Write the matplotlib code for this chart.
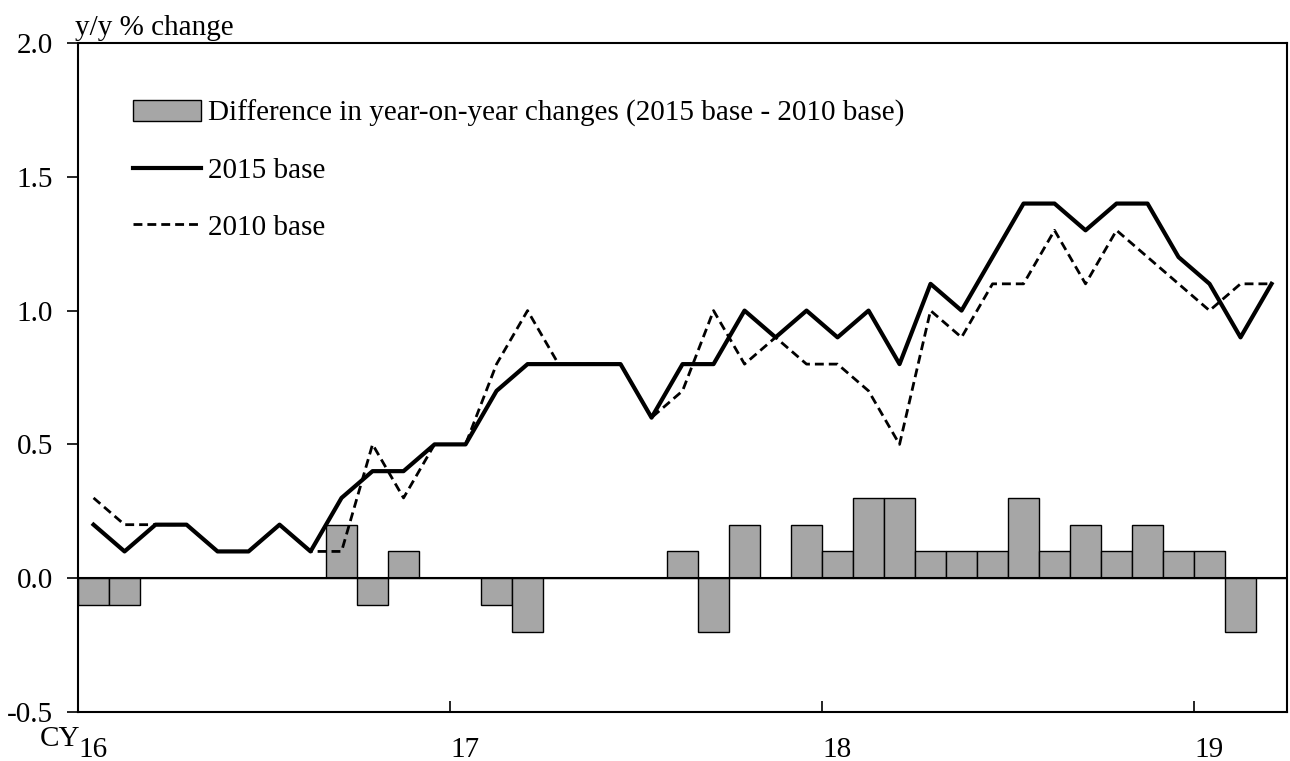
import matplotlib.pyplot as plt
import numpy as np

plt.rcParams['font.family'] = ['Liberation Serif', 'DejaVu Serif']

# monthly, Jan 2016 - Mar 2019
base2015 = [0.2, 0.1, 0.2, 0.2, 0.1, 0.1, 0.2, 0.1, 0.3, 0.4, 0.4, 0.5,
            0.5, 0.7, 0.8, 0.8, 0.8, 0.8, 0.6, 0.8, 0.8, 1.0, 0.9, 1.0,
            0.9, 1.0, 0.8, 1.1, 1.0, 1.2, 1.4, 1.4, 1.3, 1.4, 1.4, 1.2,
            1.1, 0.9, 1.1]
base2010 = [0.3, 0.2, 0.2, 0.2, 0.1, 0.1, 0.2, 0.1, 0.1, 0.5, 0.3, 0.5,
            0.5, 0.8, 1.0, 0.8, 0.8, 0.8, 0.6, 0.7, 1.0, 0.8, 0.9, 0.8,
            0.8, 0.7, 0.5, 1.0, 0.9, 1.1, 1.1, 1.3, 1.1, 1.3, 1.2, 1.1,
            1.0, 1.1, 1.1]
diff = [-0.1, -0.1, 0.0, 0.0, 0.0, 0.0, 0.0, 0.0, 0.2, -0.1, 0.1, 0.0,
        0.0, -0.1, -0.2, 0.0, 0.0, 0.0, 0.0, 0.1, -0.2, 0.2, 0.0, 0.2,
        0.1, 0.3, 0.3, 0.1, 0.1, 0.1, 0.3, 0.1, 0.2, 0.1, 0.2, 0.1,
        0.1, -0.2, 0.0]
year_ticks = [0, 12, 24, 36]
year_labels = ['16', '17', '18', '19']
yticks = [-0.5, 0.0, 0.5, 1.0, 1.5, 2.0]

fs = 21
fig = plt.figure(figsize=(12.9, 7.61), dpi=100)
ax = fig.add_axes([0.0605, 0.0644, 0.9372, 0.8791])

x = np.arange(len(base2015)) + 0.5
bars = ax.bar(x, diff, width=1.0, color='#a6a6a6', edgecolor='black', linewidth=1.0,
              label='Difference in year-on-year changes (2015 base - 2010 base)', zorder=2)
l1, = ax.plot(x, base2015, color='black', linewidth=3.0, label='2015 base', zorder=4)
l2, = ax.plot(x, base2010, color='black', linewidth=2.0, dashes=(3.2, 1.8), label='2010 base', zorder=3)
ax.axhline(0, color='black', linewidth=1.5, zorder=5)

ax.set_xlim(0, len(base2015))
ax.set_ylim(-0.5, 2.0)
ax.set_yticks(yticks)
ax.set_yticklabels(['%.1f' % v for v in yticks], fontsize=fs)
ax.set_xticks(year_ticks)
ax.set_xticklabels(year_labels, fontsize=fs, ha='left')
ax.tick_params(axis='x', direction='in', length=8, width=1.2, pad=18)
ax.tick_params(axis='y', direction='out', length=8, width=1.2, pad=10)
for s in ax.spines.values():
    s.set_linewidth(1.5)

fig.text(0.031, 0.0289, 'CY', fontsize=fs, ha='left', va='center')
fig.text(0.058, 0.963, 'y/y % change', fontsize=fs, ha='left', va='center')

leg = ax.legend([bars, l1, l2], [bars.get_label(), l1.get_label(), l2.get_label()],
                loc='upper left', bbox_to_anchor=(0.0455, 0.915), frameon=False,
                fontsize=fs, handlelength=2.33, handletextpad=0.24,
                labelspacing=1.04, borderpad=0, borderaxespad=0)

fig.savefig('out.png', dpi=100)
